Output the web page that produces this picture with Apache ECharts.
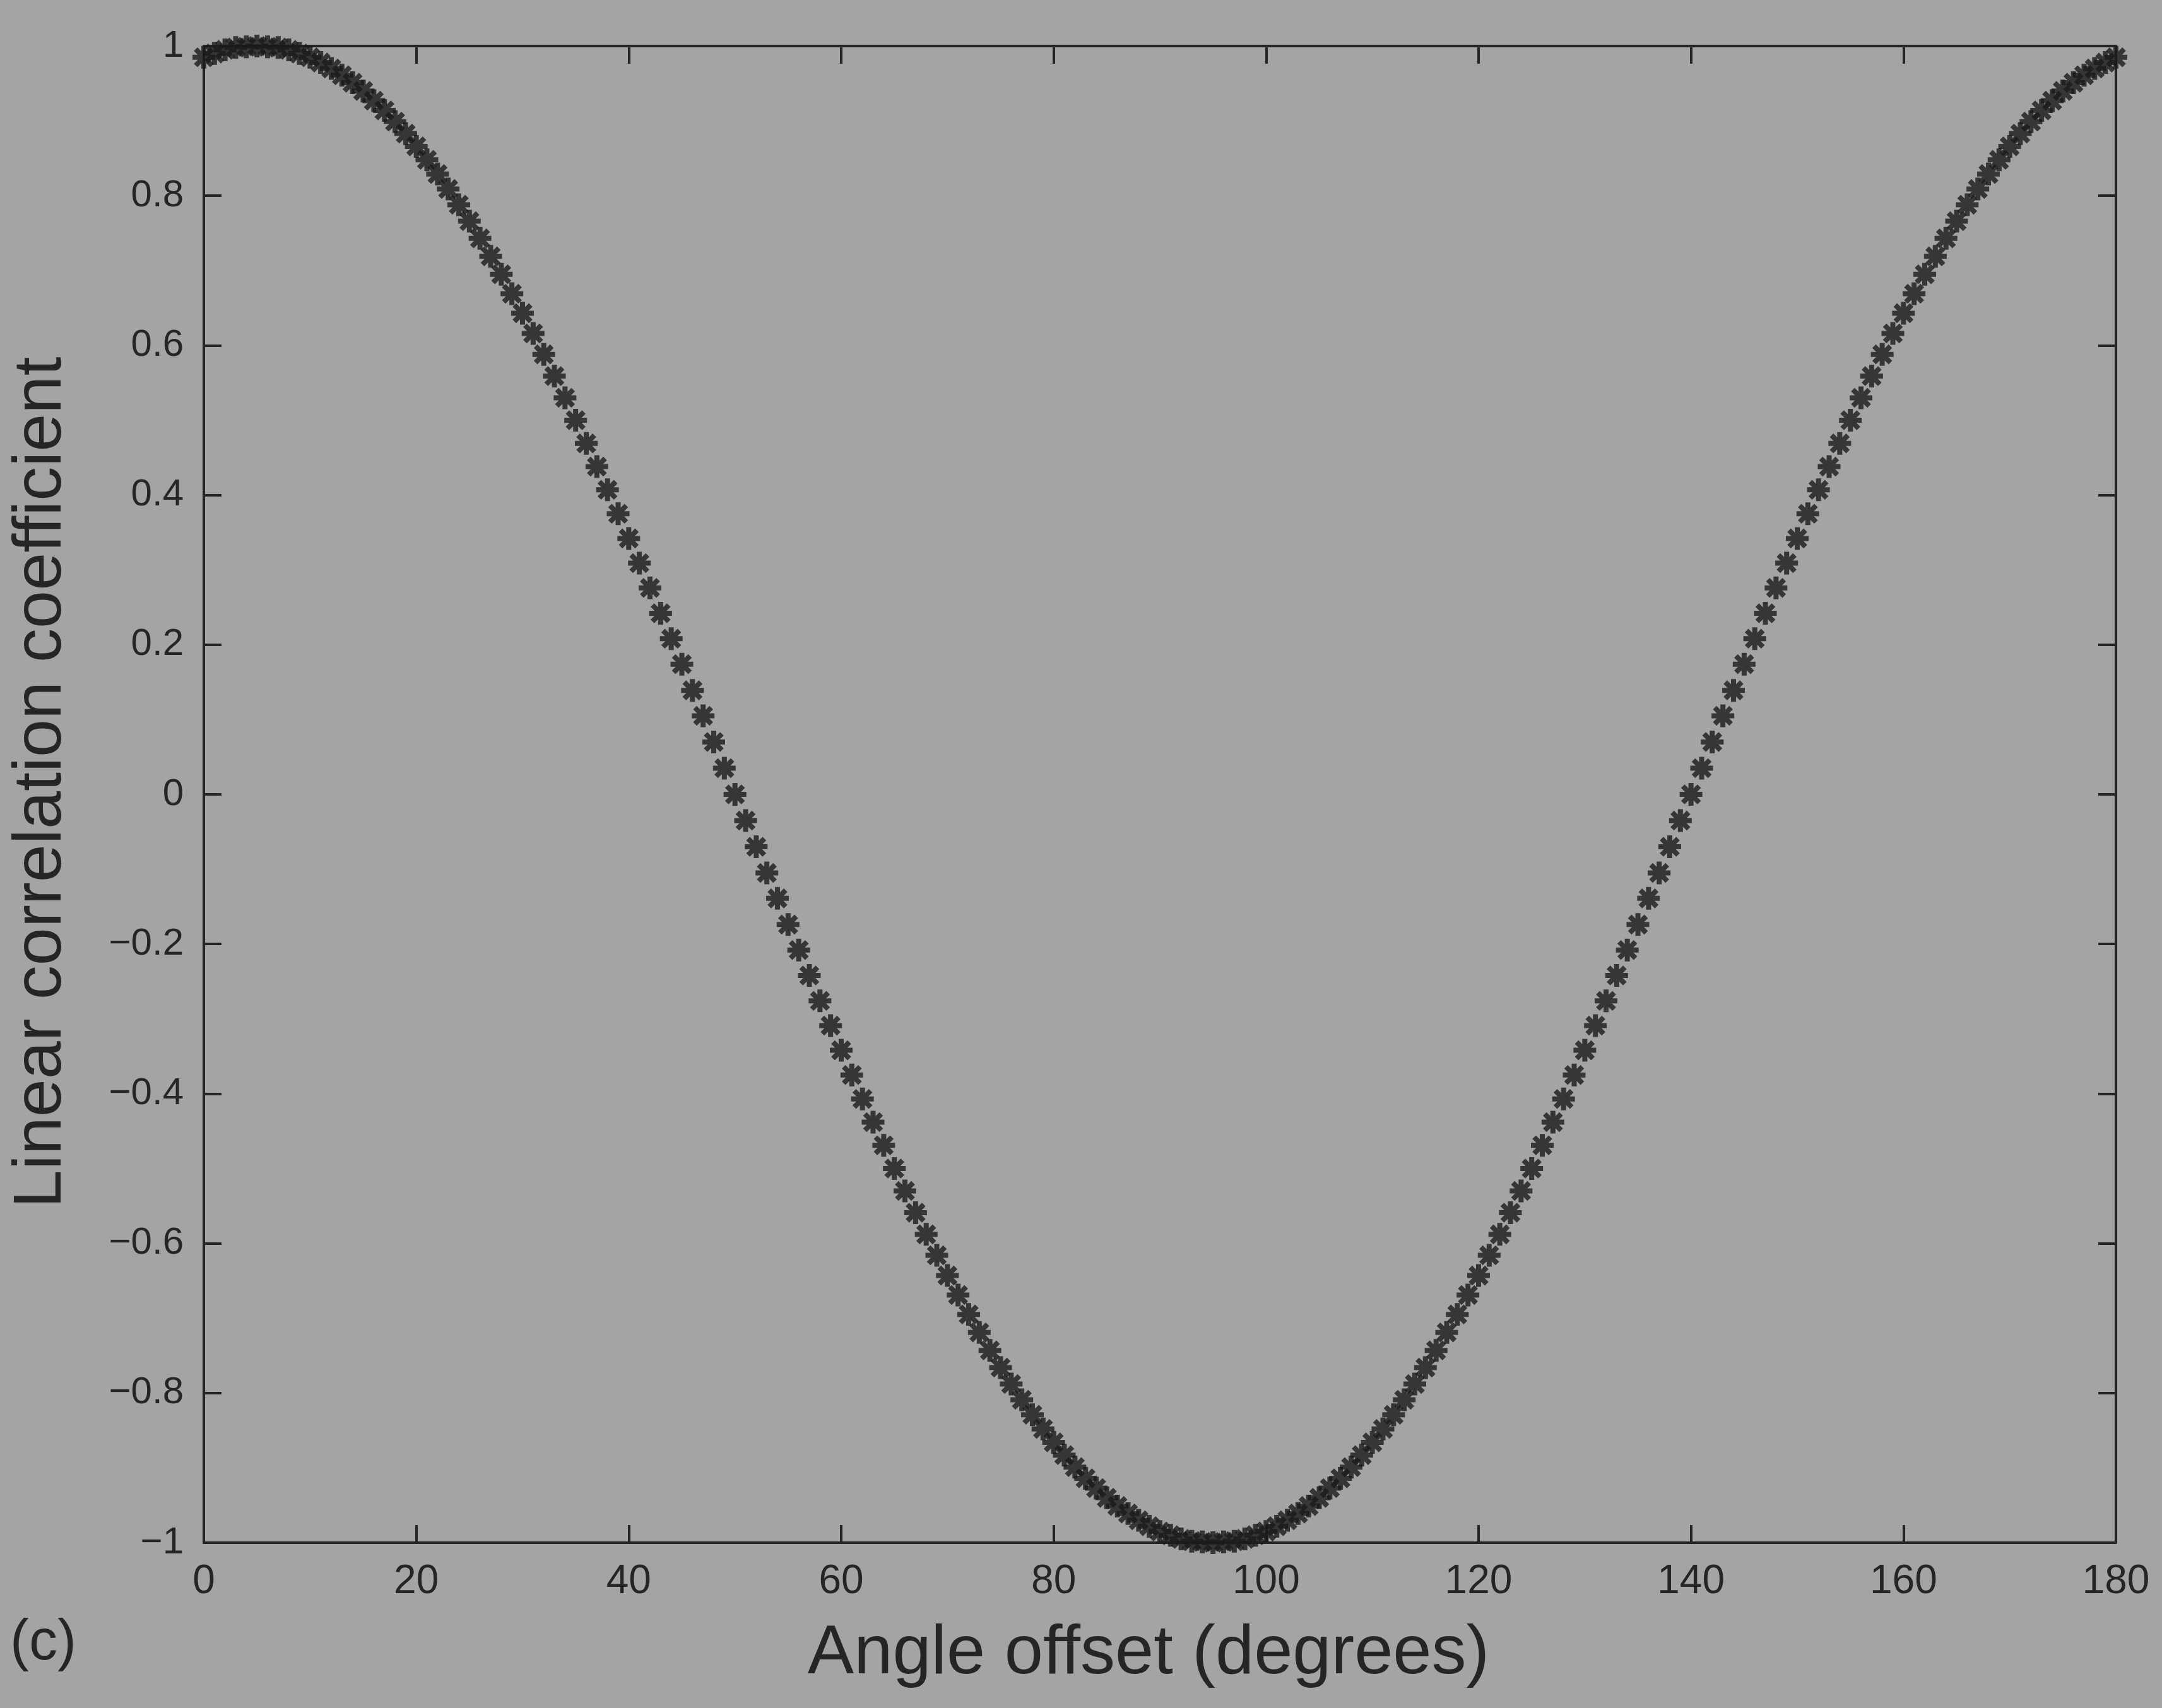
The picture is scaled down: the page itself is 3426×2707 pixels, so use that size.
<!DOCTYPE html>
<html>
<head>
<meta charset="utf-8">
<script src="https://cdn.jsdelivr.net/npm/echarts@6/dist/echarts.min.js"></script>
<style>
  html, body { margin: 0; padding: 0; background: #a4a5a3; }
  #chart { width: 3426px; height: 2707px; }
</style>
</head>
<body>
<div id="chart"></div>
<script>
// Angle offset (degrees) — one marker per degree
const angles = [
  0,1,2,3,4,5,6,7,8,9,10,11,12,13,14,15,16,17,18,19,
  20,21,22,23,24,25,26,27,28,29,30,31,32,33,34,35,36,37,38,39,
  40,41,42,43,44,45,46,47,48,49,50,51,52,53,54,55,56,57,58,59,
  60,61,62,63,64,65,66,67,68,69,70,71,72,73,74,75,76,77,78,79,
  80,81,82,83,84,85,86,87,88,89,90,91,92,93,94,95,96,97,98,99,
  100,101,102,103,104,105,106,107,108,109,110,111,112,113,114,115,116,117,118,119,
  120,121,122,123,124,125,126,127,128,129,130,131,132,133,134,135,136,137,138,139,
  140,141,142,143,144,145,146,147,148,149,150,151,152,153,154,155,156,157,158,159,
  160,161,162,163,164,165,166,167,168,169,170,171,172,173,174,175,176,177,178,179,
  180
];
// Linear correlation coefficient
const correlation = [
  0.985,0.990,0.995,0.998,0.999,1.000,0.999,0.998,0.995,0.990,
  0.985,0.978,0.970,0.961,0.951,0.940,0.927,0.914,0.899,0.883,
  0.866,0.848,0.829,0.809,0.788,0.766,0.743,0.719,0.695,0.669,
  0.643,0.616,0.588,0.559,0.530,0.500,0.469,0.438,0.407,0.375,
  0.342,0.309,0.276,0.242,0.208,0.174,0.139,0.105,0.070,0.035,
  0.000,-0.035,-0.070,-0.105,-0.139,-0.174,-0.208,-0.242,-0.276,-0.309,
  -0.342,-0.375,-0.407,-0.438,-0.469,-0.500,-0.530,-0.559,-0.588,-0.616,
  -0.643,-0.669,-0.695,-0.719,-0.743,-0.766,-0.788,-0.809,-0.829,-0.848,
  -0.866,-0.883,-0.899,-0.914,-0.927,-0.940,-0.951,-0.961,-0.970,-0.978,
  -0.985,-0.990,-0.995,-0.998,-0.999,-1.000,-0.999,-0.998,-0.995,-0.990,
  -0.985,-0.978,-0.970,-0.961,-0.951,-0.940,-0.927,-0.914,-0.899,-0.883,
  -0.866,-0.848,-0.829,-0.809,-0.788,-0.766,-0.743,-0.719,-0.695,-0.669,
  -0.643,-0.616,-0.588,-0.559,-0.530,-0.500,-0.469,-0.438,-0.407,-0.375,
  -0.342,-0.309,-0.276,-0.242,-0.208,-0.174,-0.139,-0.105,-0.070,-0.035,
  0.000,0.035,0.070,0.105,0.139,0.174,0.208,0.242,0.276,0.309,
  0.342,0.375,0.407,0.438,0.469,0.500,0.530,0.559,0.588,0.616,
  0.643,0.669,0.695,0.719,0.743,0.766,0.788,0.809,0.829,0.848,
  0.866,0.883,0.899,0.914,0.927,0.940,0.951,0.961,0.970,0.978,
  0.985
];
const xTickLabels = ['0','20','40','60','80','100','120','140','160','180'];
const yTickLabels = ['\u22121','\u22120.8','\u22120.6','\u22120.4','\u22120.2','0','0.2','0.4','0.6','0.8','1'];

const xTitle = 'Angle offset (degrees)';
const yTitle = 'Linear correlation coefficient';
const panelLabel = '(c)';

const ink = '#252525';
const font = 'Liberation Sans, Arial, Helvetica, sans-serif';

const chart = echarts.init(document.getElementById('chart'));

const points = angles.map((a, i) => [a, correlation[i]]);

const tickStyle = { show: true, inside: true, length: 28, lineStyle: { color: ink, width: 4 } };
const lineStyleAxis = { show: true, onZero: false, lineStyle: { color: ink, width: 4 } };

chart.setOption({
  backgroundColor: '#a4a5a3',
  animation: false,
  grid: { left: 323, right: 73, top: 73, bottom: 262, containLabel: false },
  xAxis: [
    {
      type: 'value', position: 'bottom', min: 0, max: 180, interval: 20,
      axisLine: lineStyleAxis, axisTick: tickStyle, splitLine: { show: false },
      axisLabel: {
        color: ink, fontSize: 64, fontFamily: font, margin: 30,
        formatter: v => xTickLabels[Math.round(v / 20)]
      }
    },
    {
      type: 'value', position: 'top', min: 0, max: 180, interval: 20,
      axisLine: lineStyleAxis, axisTick: tickStyle, splitLine: { show: false },
      axisLabel: { show: false }
    }
  ],
  yAxis: [
    {
      type: 'value', position: 'left', min: -1, max: 1, interval: 0.2,
      axisLine: lineStyleAxis, axisTick: tickStyle, splitLine: { show: false },
      axisLabel: {
        color: ink, fontSize: 60, fontFamily: font, margin: 32,
        formatter: v => yTickLabels[Math.round((v + 1) / 0.2)]
      }
    },
    {
      type: 'value', position: 'right', min: -1, max: 1, interval: 0.2,
      axisLine: lineStyleAxis, axisTick: tickStyle, splitLine: { show: false },
      axisLabel: { show: false }
    }
  ],
  series: [
    {
      type: 'scatter',
      xAxisIndex: 0, yAxisIndex: 0,
      data: points,
      symbol: 'path://M0,-1L0,1M-1,0L1,0M-0.72,-0.72L0.72,0.72M-0.72,0.72L0.72,-0.72',
      symbolSize: 36,
      itemStyle: { color: 'rgba(0,0,0,0)', borderColor: '#1a1a1a', borderWidth: 8 },
      emphasis: { disabled: true }
    }
  ],
  graphic: [
    {
      type: 'text', x: 1820, y: 2622,
      style: { text: xTitle, fill: ink, font: '110px ' + font, textAlign: 'center', textVerticalAlign: 'middle' }
    },
    {
      type: 'text', x: 66, y: 1240, rotation: Math.PI / 2,
      style: { text: yTitle, fill: ink, font: '108px ' + font, textAlign: 'center', textVerticalAlign: 'middle' }
    },
    {
      type: 'text', x: 16, y: 2605,
      style: { text: panelLabel, fill: ink, font: '90px ' + font, textAlign: 'left', textVerticalAlign: 'middle' }
    }
  ]
});
</script>
</body>
</html>
